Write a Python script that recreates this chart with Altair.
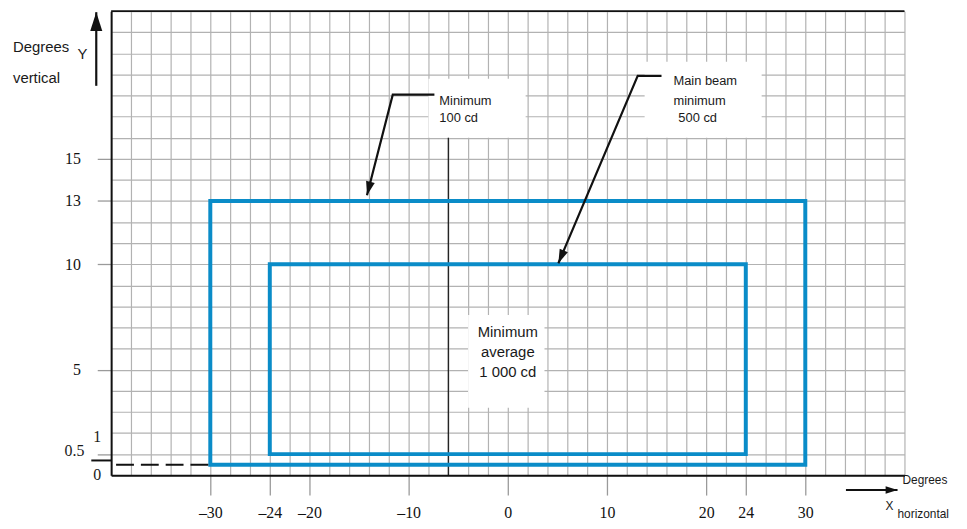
import math
import altair as alt
import pandas as pd

# ---------------- data (all in degrees) ----------------
x_tick_values = [-30, -24, -20, -10, 0, 10, 20, 24, 30]
y_tick_values = [5, 10, 13, 15]
y_tick_marks = [1, 5, 10, 13, 15]

zone_name = ["Minimum 100 cd", "Main beam minimum 500 cd"]
zone_x1 = [-30, -24]
zone_x2 = [30, 24]
zone_y1 = [0.5, 1]
zone_y2 = [13, 10]

# white label boxes
box_x1 = [-8.0, 13.8, -4.0]
box_x2 = [1.8, 25.6, 3.7]
box_y1 = [16.0, 16.0, 3.2]
box_y2 = [18.8, 19.6, 7.6]

# annotation texts (top boxes, left aligned)
note_text = ["Minimum", "100 cd", "Main beam", "minimum", "500 cd"]
note_x = [-6.9, -6.9, 16.7, 16.7, 17.2]
note_y = [17.75, 16.95, 18.7, 17.75, 16.95]

# centre text
centre_text = ["Minimum", "average", "1 000 cd"]
centre_x = [0, 0, 0]
centre_y = [6.78, 5.84, 4.9]

# axis captions
ycap_text = ["Degrees", "vertical", "Y"]
ycap_x = [-49.9, -49.9, -43.4]
ycap_y = [20.3, 18.85, 19.95]

xcap_text = ["Degrees", "X", "horizontal"]
xcap_x = [39.8, 38.1, 39.3]
xcap_y = [-0.25, -1.45, -1.85]

low_text = ["0", "0.5", "1"]
low_x = [-41.0, -42.7, -41.0]
low_y = [0.0, 1.17, 1.83]

# leader arrows (polylines, last point is the tip)
arrow_id = ["A", "A", "A", "B", "B", "B", "Y", "Y", "X", "X"]
arrow_x = [-7.4, -11.6, -14.2, 15.5, 13.1, 5.1, -41.5, -41.5, 34.1, 39.3]
arrow_y = [18.04, 18.04, 13.27, 18.93, 18.93, 10.05, 18.46, 21.95, -0.7, -0.7]
arrow_head = {"A": 784, "B": 784, "Y": 1444, "X": 576}

# reference line
ref_x = [-6.0]
ref_y1 = [0.0]
ref_y2 = [16.0]

# ---------------- layout ----------------
X_MIN, X_MAX = -40, 40
Y_MIN, Y_MAX = 0, 22
W, H = 800, 468
BLUE = "#0a8cc8"
GRID = "#b2b2b2"
SERIF = "Liberation Serif"
SANS = "Liberation Sans"

xs = alt.Scale(domain=[X_MIN, X_MAX], nice=False, zero=False)
ys = alt.Scale(domain=[Y_MIN, Y_MAX], nice=False, zero=False)

x_list = str(x_tick_values)
y_list = str(y_tick_values)
ym_list = str(y_tick_marks)

x_axis = alt.Axis(
    values=list(range(X_MIN, X_MAX + 1, 2)),
    grid=True, gridColor=GRID, gridWidth=1.2,
    domain=True, domainColor="#111", domainWidth=2,
    ticks=True, tickColor="#9a9a9a", tickWidth=1.3, tickSize=20,
    tickOpacity={"condition": {"test": f"indexof({x_list}, datum.value) >= 0", "value": 1}, "value": 0},
    labelExpr=f"indexof({x_list}, datum.value) >= 0 ? (datum.value < 0 ? '\u2013' + abs(datum.value) : '' + datum.value) : ''",
    labelFont=SERIF, labelFontSize=16, labelColor="#111", labelPadding=10,
    labelOverlap=False, labelFlush=False, title=None,
)
y_axis = alt.Axis(
    values=list(range(Y_MIN, Y_MAX + 1)),
    grid=True, gridColor=GRID, gridWidth=1.2,
    domain=True, domainColor="#111", domainWidth=2,
    ticks=True, tickColor="#9a9a9a", tickWidth=1.3, tickSize=14,
    tickOpacity={"condition": {"test": f"indexof({ym_list}, datum.value) >= 0", "value": 1}, "value": 0},
    labelExpr=f"indexof({y_list}, datum.value) >= 0 ? datum.label : ''",
    labelFont=SERIF, labelFontSize=16, labelColor="#111", labelPadding=17,
    labelOverlap=False, labelFlush=False, title=None,
)


def X(field):
    return alt.X(field, type="quantitative", scale=xs, axis=x_axis)


def Y(field):
    return alt.Y(field, type="quantitative", scale=ys, axis=y_axis)


zones = pd.DataFrame({"name": zone_name, "x1": zone_x1, "x2": zone_x2, "y1": zone_y1, "y2": zone_y2})
boxes = pd.DataFrame({"x1": box_x1, "x2": box_x2, "y1": box_y1, "y2": box_y2})
refs = pd.DataFrame({"x": ref_x, "y1": ref_y1, "y2": ref_y2})

arrows = pd.DataFrame({"id": arrow_id, "x": arrow_x, "y": arrow_y})
arrows["order"] = arrows.groupby("id").cumcount()

kx = W / (X_MAX - X_MIN)
ky = H / (Y_MAX - Y_MIN)
heads = []
for aid, g in arrows.groupby("id", sort=False):
    p, t = g.iloc[-2], g.iloc[-1]
    dx = (t.x - p.x) * kx
    dy = -(t.y - p.y) * ky
    ang = math.degrees(math.atan2(dx, -dy)) % 360
    heads.append({"id": aid, "x": t.x, "y": t.y, "angle": ang, "size": arrow_head[aid]})
heads = pd.DataFrame(heads)

white = alt.Chart(boxes).mark_rect(fill="white", strokeWidth=0).encode(
    x=X("x1"), x2="x2", y=Y("y1"), y2="y2",
)

refline = alt.Chart(refs).mark_rule(color="#111", strokeWidth=1.2).encode(
    x=X("x"), y=Y("y1"), y2="y2",
)

dash_df = pd.DataFrame({"x1": [X_MIN + 0.5], "x2": [zone_x1[0]], "y": [zone_y1[0]]})
dashed = alt.Chart(dash_df).mark_rule(color="#111", strokeWidth=2, strokeDash=[18, 7]).encode(
    x=X("x1"), x2="x2", y=Y("y"),
)
tick05_df = pd.DataFrame({"x1": [X_MIN - 2], "x2": [X_MIN], "y": [0.7]})
tick05 = alt.Chart(tick05_df).mark_rule(color="#111", strokeWidth=2).encode(
    x=X("x1"), x2="x2", y=Y("y"),
)

top_df = pd.DataFrame({"x1": [X_MIN], "x2": [X_MAX], "y": [Y_MAX]})
top = alt.Chart(top_df).mark_rule(color="#111", strokeWidth=2).encode(
    x=X("x1"), x2="x2", y=Y("y"),
)

zones_layer = alt.Chart(zones).mark_rect(fill="transparent", stroke=BLUE, strokeWidth=4).encode(
    x=X("x1"), x2="x2", y=Y("y1"), y2="y2",
)

arrow_lines = alt.Chart(arrows).mark_line(color="#111", strokeWidth=2.2).encode(
    x=X("x"), y=Y("y"), detail="id:N", order="order:Q",
)
arrow_heads = alt.Chart(heads).mark_point(
    shape="M0,0L-0.32,1L0.32,1Z", filled=True, color="#111", opacity=1, strokeWidth=0
).encode(
    x=X("x"), y=Y("y"),
    angle=alt.Angle("angle:Q", scale=None),
    size=alt.Size("size:Q", scale=None, legend=None),
)


def text_layer(texts, xv, yv, align, font, size, color="#1a1a1a"):
    df = pd.DataFrame({"t": texts, "x": xv, "y": yv})
    return alt.Chart(df).mark_text(
        align=align, baseline="middle", font=font, fontSize=size, color=color
    ).encode(x=X("x"), y=Y("y"), text="t:N")


texts = [
    text_layer(note_text, note_x, note_y, "left", SANS, 13),
    text_layer(centre_text, centre_x, centre_y, "center", SANS, 15),
    text_layer(ycap_text, ycap_x, ycap_y, "left", SANS, 15),
    text_layer(xcap_text, xcap_x, xcap_y, "left", SANS, 12),
    text_layer(low_text, low_x, low_y, "right", SERIF, 16),
]

chart = alt.layer(
    white, refline, zones_layer, dashed, tick05, top, arrow_lines, arrow_heads, *texts
).properties(
    width=W, height=H,
    autosize=alt.AutoSizeParams(type="none"),
    padding={"left": 104, "top": 1, "right": 55, "bottom": 44},
    background="white",
).configure_view(stroke=None)

chart.save("out.html", embed_options={"renderer": "svg", "actions": False})
